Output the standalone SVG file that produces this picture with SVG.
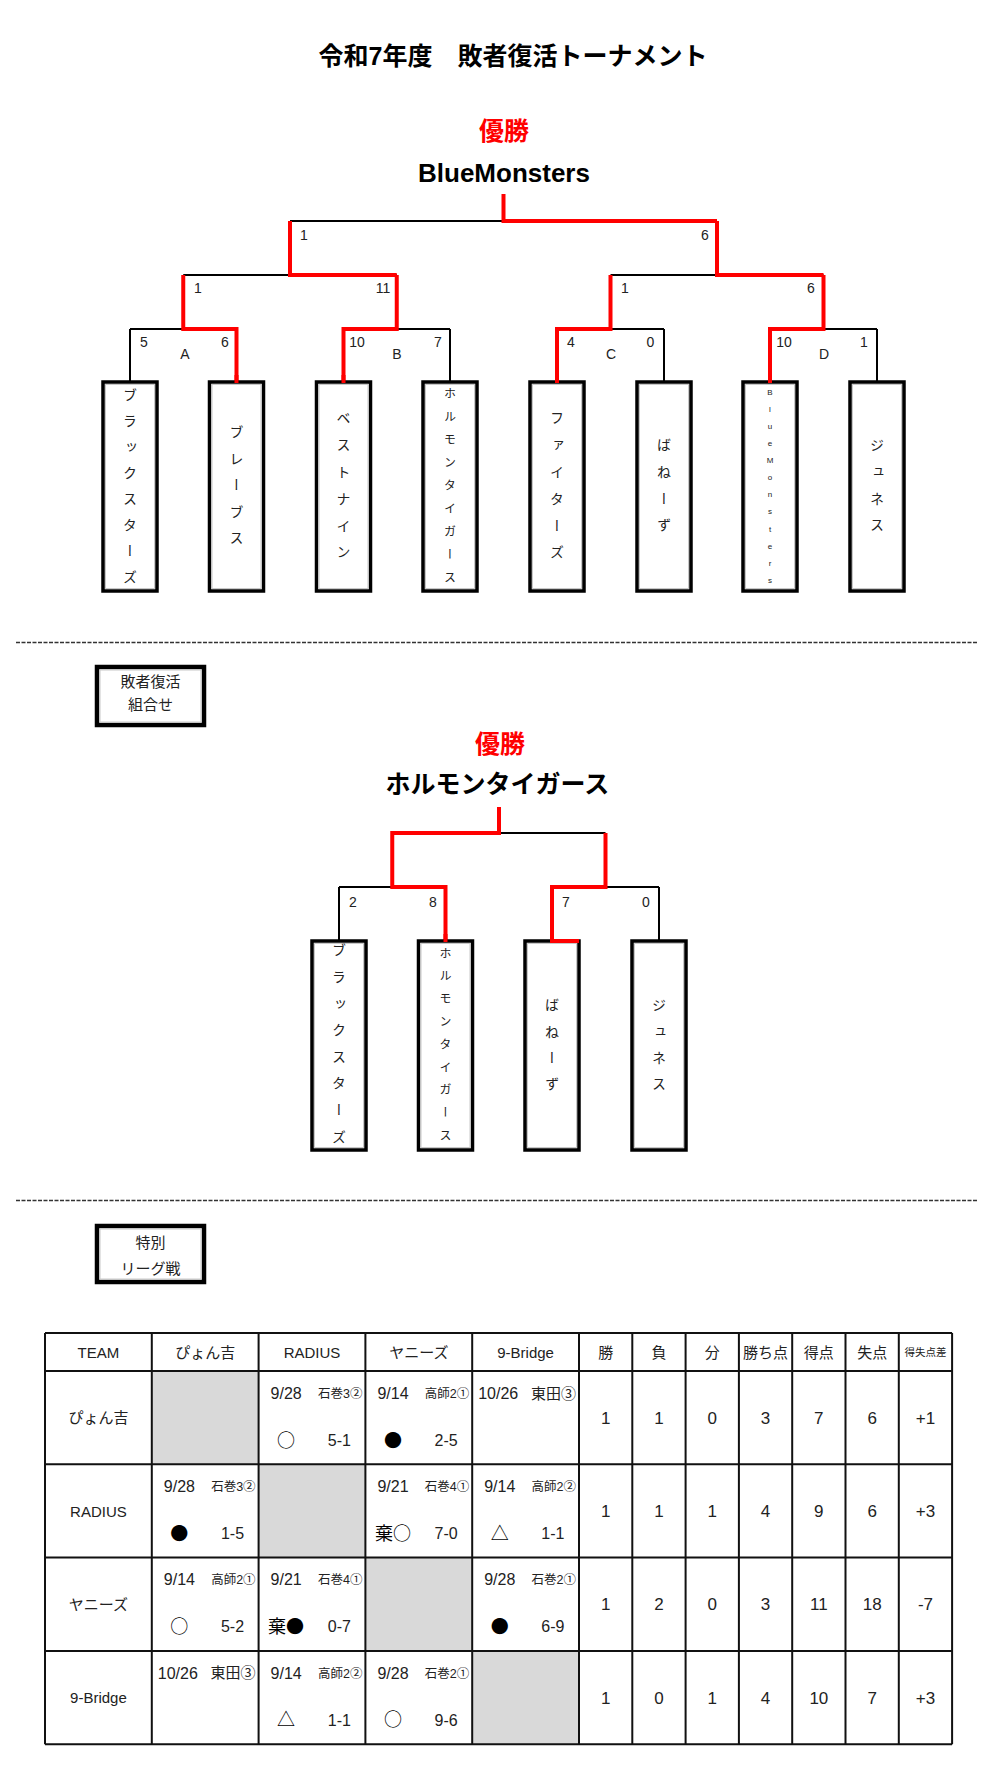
<svg xmlns="http://www.w3.org/2000/svg" width="1000" height="1769" viewBox="0 0 1000 1769">
<style>
.title{font-family:"Liberation Sans","Noto Sans CJK JP",sans-serif;font-weight:bold;font-size:25px;fill:#000;text-anchor:middle}
.champ{font-family:"Noto Sans CJK JP",sans-serif;font-weight:bold;font-size:25px;fill:#ff0000;text-anchor:middle}
.win{font-family:"Liberation Sans","Noto Sans CJK JP",sans-serif;font-weight:bold;font-size:26px;fill:#000;text-anchor:middle}
.ln{fill:none;stroke:#000;stroke-width:2}
.rd{fill:none;stroke:#ff0000;stroke-width:4;stroke-linejoin:miter}
.bx{fill:#fff;stroke:#000;stroke-width:3.5}
.bxi{fill:none;stroke:#c8c8c8;stroke-width:1}
.sc{font-family:"Liberation Sans",sans-serif;font-size:14px;fill:#222;text-anchor:middle}
.vt{font-family:"Noto Sans CJK JP",sans-serif;font-size:14px;fill:#222;writing-mode:vertical-rl}
.vs{font-family:"Noto Sans CJK JP",sans-serif;font-size:12px;fill:#222;writing-mode:vertical-rl}
.vu{font-family:"Liberation Sans","Noto Sans CJK JP",sans-serif;font-size:8px;fill:#222;writing-mode:vertical-rl;text-orientation:upright}
.dash{stroke:#333;stroke-width:1.6;stroke-dasharray:4 1.5}
.lbx{fill:#fff;stroke:#000;stroke-width:4.5}
.lbt{font-family:"Noto Sans CJK JP",sans-serif;font-size:15px;fill:#222;text-anchor:middle}
.grid{stroke:#111;stroke-width:2;fill:none}
.gray{fill:#d9d9d9}
.th{font-family:"Liberation Sans","Noto Sans CJK JP",sans-serif;font-size:15px;fill:#222;text-anchor:middle}
.ths{font-family:"Noto Sans CJK JP",sans-serif;font-size:10.5px;fill:#222;text-anchor:middle}
.dt{font-family:"Liberation Sans",sans-serif;font-size:16px;fill:#222}
.vn{font-family:"Liberation Sans","Noto Sans CJK JP",sans-serif;font-size:12.5px;fill:#222;text-anchor:end}
.vb{font-family:"Liberation Sans","Noto Sans CJK JP",sans-serif;font-size:15px;fill:#222;text-anchor:end}
.sy{font-family:"Noto Sans CJK JP",sans-serif;font-size:18px;fill:#000;text-anchor:middle}
.ss{font-family:"Liberation Sans",sans-serif;font-size:16px;fill:#222;text-anchor:middle}
.st{font-family:"Liberation Sans",sans-serif;font-size:17px;fill:#222;text-anchor:middle}
</style>
<rect width="1000" height="1769" fill="#fff"/>

<text class="title" x="513" y="65">令和7年度　敗者復活トーナメント</text>

<!-- ===== Bracket 1 ===== -->
<text class="champ" x="504" y="139.5">優勝</text>
<text class="win" x="504" y="182">BlueMonsters</text>

<g id="connectors">
  <!-- bracket 1 black -->
  <path class="ln" d="M503.5,194 V221 M290,221 H717 M290,221 V275 M717,221 V275 M183.25,275 H396.75 M610.5,275 H823.5 M183.25,275 V329 M396.75,275 V329 M610.5,275 V329 M823.5,275 V329 M130,329 H236.5 M343.5,329 H450 M557,329 H664 M770,329 H877 M130,329 V382 M236.5,329 V382 M343.5,329 V382 M450,329 V382 M557,329 V382 M664,329 V382 M770,329 V382 M877,329 V382"/>
  <!-- bracket 1 red -->
  <path class="rd" d="M183.25,275 V329 H236.5 V382"/>
  <path class="rd" d="M396.75,275 V329 H343.5 V382"/>
  <path class="rd" d="M610.5,275 V329 H557 V382"/>
  <path class="rd" d="M823.5,275 V329 H770 V382"/>
  <path class="rd" d="M290,221 V275 H396.75"/>
  <path class="rd" d="M717,221 V275 H823.5"/>
  <path class="rd" d="M503.5,194 V221 H717"/>
  <!-- bracket 2 black -->
  <path class="ln" d="M499,807 V833 M392.25,833 H605.5 M392.25,833 V887 M605.5,833 V887 M339,887 H445.5 M552,887 H659 M339,887 V941 M445.5,887 V941 M552,887 V941 M659,887 V941"/>
  <!-- bracket 2 red -->
  <path class="rd" d="M499,807 V833 H392.25 V887 H445.5 V941"/>
  <path class="rd" d="M605.5,833 V887 H552 V941 H579"/>
</g>

<g id="scores1">
  <text class="sc" x="304" y="240">1</text>
  <text class="sc" x="705" y="240">6</text>
  <text class="sc" x="198" y="293">1</text>
  <text class="sc" x="383" y="293">11</text>
  <text class="sc" x="625" y="293">1</text>
  <text class="sc" x="811" y="293">6</text>
  <text class="sc" x="144" y="347">5</text>
  <text class="sc" x="185" y="359">A</text>
  <text class="sc" x="225" y="347">6</text>
  <text class="sc" x="357" y="347">10</text>
  <text class="sc" x="397" y="359">B</text>
  <text class="sc" x="438" y="347">7</text>
  <text class="sc" x="571" y="347">4</text>
  <text class="sc" x="611" y="359">C</text>
  <text class="sc" x="650.5" y="347">0</text>
  <text class="sc" x="784" y="347">10</text>
  <text class="sc" x="824" y="359">D</text>
  <text class="sc" x="864" y="347">1</text>
</g>

<g id="team-b1-1"><rect class="bx" x="103" y="382" width="54" height="209"/><rect class="bxi" x="105.5" y="384.5" width="49" height="204"/>
<text class="vt" x="130" y="388 414 440 466 492 518 544 570">ブラックスターズ</text></g>
<g id="team-b1-2"><rect class="bx" x="209.5" y="382" width="54" height="209"/><rect class="bxi" x="212" y="384.5" width="49" height="204"/>
<text class="vt" x="236.5" y="424.7 451.2 477.7 504.2 530.7">ブレーブス</text></g>
<g id="team-b1-3"><rect class="bx" x="316.5" y="382" width="54" height="209"/><rect class="bxi" x="319" y="384.5" width="49" height="204"/>
<text class="vt" x="343.5" y="411 437.8 464.6 491.4 518.2 545">ベストナイン</text></g>
<g id="team-b1-4"><rect class="bx" x="423" y="382" width="54" height="209"/><rect class="bxi" x="425.5" y="384.5" width="49" height="204"/>
<text class="vs" x="450" y="387 410 433 456 479 502 525 548 571">ホルモンタイガース</text></g>
<g id="team-b1-5"><rect class="bx" x="530" y="382" width="54" height="209"/><rect class="bxi" x="532.5" y="384.5" width="49" height="204"/>
<text class="vt" x="557" y="411 437.8 464.6 491.4 518.2 545">ファイターズ</text></g>
<g id="team-b1-6"><rect class="bx" x="637" y="382" width="54" height="209"/><rect class="bxi" x="639.5" y="384.5" width="49" height="204"/>
<text class="vt" x="664" y="438 464.7 491.4 518.1">ばねーず</text></g>
<g id="team-b1-7"><rect class="bx" x="743" y="382" width="54" height="209"/><rect class="bxi" x="745.5" y="384.5" width="49" height="204"/>
<text class="vu" x="770" y="387.7 404.8 421.9 439 456.1 473.2 490.3 507.4 524.5 541.6 558.7 575.8">BlueMonsters</text></g>
<g id="team-b1-8"><rect class="bx" x="850" y="382" width="54" height="209"/><rect class="bxi" x="852.5" y="384.5" width="49" height="204"/>
<text class="vt" x="877" y="438 464.7 491.4 518.1">ジュネス</text></g>

<g id="connectors-top">
  <path class="rd" d="M236.5,375 V383"/>
  <path class="rd" d="M343.5,375 V383"/>
  <path class="rd" d="M557,375 V383"/>
  <path class="rd" d="M770,375 V383"/>
</g>

<line class="dash" x1="16" y1="642.5" x2="978" y2="642.5"/>

<g id="label-haisha">
  <rect class="lbx" x="97" y="667" width="107" height="58"/>
  <rect class="bxi" x="100" y="670" width="101" height="52"/>
  <text class="lbt" x="150.5" y="686.5">敗者復活</text>
  <text class="lbt" x="150.5" y="710">組合せ</text>
</g>

<!-- ===== Bracket 2 ===== -->
<text class="champ" x="500" y="752.5">優勝</text>
<text class="title" x="497.5" y="792.5">ホルモンタイガース</text>

<g id="scores2">
  <text class="sc" x="353" y="907">2</text>
  <text class="sc" x="433" y="907">8</text>
  <text class="sc" x="566" y="907">7</text>
  <text class="sc" x="646" y="907">0</text>
</g>

<g id="team-b2-1"><rect class="bx" x="312" y="941" width="54" height="209"/><rect class="bxi" x="314.5" y="943.5" width="49" height="204"/>
<text class="vt" x="339" y="943 969.6 996.2 1022.8 1049.4 1076 1102.6 1129.2">ブラックスターズ</text></g>
<g id="team-b2-2"><rect class="bx" x="418.5" y="941" width="54" height="209"/><rect class="bxi" x="421" y="943.5" width="49" height="204"/>
<text class="vs" x="445.5" y="947 969.8 992.6 1015.4 1038.2 1061 1083.8 1106.6 1129.4">ホルモンタイガース</text></g>
<g id="team-b2-3"><rect class="bx" x="525" y="941" width="54" height="209"/><rect class="bxi" x="527.5" y="943.5" width="49" height="204"/>
<text class="vt" x="552" y="998 1024.2 1050.4 1076.6">ばねーず</text></g>
<g id="team-b2-4"><rect class="bx" x="632" y="941" width="54" height="209"/><rect class="bxi" x="634.5" y="943.5" width="49" height="204"/>
<text class="vt" x="659" y="998 1024.2 1050.4 1076.6">ジュネス</text></g>

<g id="connectors-top2">
  <path class="rd" d="M445.5,934 V942"/>
  <path class="rd" d="M552,934 V941 H579"/>
</g>

<line class="dash" x1="16" y1="1200.5" x2="978" y2="1200.5"/>

<g id="label-league">
  <rect class="lbx" x="97" y="1226" width="107" height="56"/>
  <rect class="bxi" x="100" y="1229" width="101" height="50"/>
  <text class="lbt" x="150.5" y="1247.5">特別</text>
  <text class="lbt" x="150.5" y="1273.5">リーグ戦</text>
</g>

<!-- ===== League table ===== -->
<g id="league-table">
  <rect class="gray" x="151.8" y="1371" width="106.8" height="93.3"/>
  <rect class="gray" x="258.6" y="1464.3" width="106.8" height="93.3"/>
  <rect class="gray" x="365.4" y="1557.6" width="106.8" height="93.3"/>
  <rect class="gray" x="472.2" y="1650.9" width="106.8" height="93.3"/>
  <path class="grid" d="M45,1333 H952.1 M45,1371 H952.1 M45,1464.3 H952.1 M45,1557.6 H952.1 M45,1650.9 H952.1 M45,1744.2 H952.1 M45,1333 V1744.2 M151.8,1333 V1744.2 M258.6,1333 V1744.2 M365.4,1333 V1744.2 M472.2,1333 V1744.2 M579,1333 V1744.2 M632.3,1333 V1744.2 M685.6,1333 V1744.2 M738.9,1333 V1744.2 M792.2,1333 V1744.2 M845.5,1333 V1744.2 M898.8,1333 V1744.2 M952.1,1333 V1744.2"/>

  <!-- header -->
  <text class="th" x="98.4" y="1357.5">TEAM</text>
  <text class="th" x="205.2" y="1357.5">ぴょん吉</text>
  <text class="th" x="312" y="1357.5">RADIUS</text>
  <text class="th" x="418.8" y="1357.5">ヤニーズ</text>
  <text class="th" x="525.6" y="1357.5">9-Bridge</text>
  <text class="th" x="605.65" y="1357.5">勝</text>
  <text class="th" x="658.95" y="1357.5">負</text>
  <text class="th" x="712.25" y="1357.5">分</text>
  <text class="th" x="765.55" y="1357.5">勝ち点</text>
  <text class="th" x="818.85" y="1357.5">得点</text>
  <text class="th" x="872.15" y="1357.5">失点</text>
  <text class="ths" x="925.45" y="1356">得失点差</text>

  <!-- team names -->
  <text class="th" x="98.4" y="1423">ぴょん吉</text>
  <text class="th" x="98.4" y="1516.5">RADIUS</text>
  <text class="th" x="98.4" y="1609.8">ヤニーズ</text>
  <text class="th" x="98.4" y="1703">9-Bridge</text>

  <!-- row 1 -->
  <text class="dt" x="270.6" y="1398.8">9/28</text><text class="vn" x="362.4" y="1397.8">石巻3②</text>
  <text class="sy" x="286.1" y="1446.5">○</text><text class="ss" x="339.3" y="1445.8">5-1</text>
  <text class="dt" x="377.4" y="1398.8">9/14</text><text class="vn" x="469.2" y="1397.8">高師2①</text>
  <text class="sy" x="392.9" y="1446.5">●</text><text class="ss" x="446.1" y="1445.8">2-5</text>
  <text class="dt" x="478.2" y="1398.8">10/26</text><text class="vb" x="576" y="1398.5">東田③</text>

  <!-- row 2 -->
  <text class="dt" x="163.8" y="1492.1">9/28</text><text class="vn" x="255.6" y="1491.1">石巻3②</text>
  <text class="sy" x="179.3" y="1539.8">●</text><text class="ss" x="232.5" y="1539.1">1-5</text>
  <text class="dt" x="377.4" y="1492.1">9/21</text><text class="vn" x="469.2" y="1491.1">石巻4①</text>
  <text class="sy" x="392.9" y="1539.8">棄○</text><text class="ss" x="446.1" y="1539.1">7-0</text>
  <text class="dt" x="484.2" y="1492.1">9/14</text><text class="vn" x="576" y="1491.1">高師2②</text>
  <text class="sy" x="499.7" y="1539.8">△</text><text class="ss" x="552.9" y="1539.1">1-1</text>

  <!-- row 3 -->
  <text class="dt" x="163.8" y="1585.4">9/14</text><text class="vn" x="255.6" y="1584.4">高師2①</text>
  <text class="sy" x="179.3" y="1633.1">○</text><text class="ss" x="232.5" y="1632.4">5-2</text>
  <text class="dt" x="270.6" y="1585.4">9/21</text><text class="vn" x="362.4" y="1584.4">石巻4①</text>
  <text class="sy" x="286.1" y="1633.1">棄●</text><text class="ss" x="339.3" y="1632.4">0-7</text>
  <text class="dt" x="484.2" y="1585.4">9/28</text><text class="vn" x="576" y="1584.4">石巻2①</text>
  <text class="sy" x="499.7" y="1633.1">●</text><text class="ss" x="552.9" y="1632.4">6-9</text>

  <!-- row 4 -->
  <text class="dt" x="157.8" y="1678.7">10/26</text><text class="vb" x="255.6" y="1678.4">東田③</text>
  <text class="dt" x="270.6" y="1678.7">9/14</text><text class="vn" x="362.4" y="1677.7">高師2②</text>
  <text class="sy" x="286.1" y="1726.4">△</text><text class="ss" x="339.3" y="1725.7">1-1</text>
  <text class="dt" x="377.4" y="1678.7">9/28</text><text class="vn" x="469.2" y="1677.7">石巻2①</text>
  <text class="sy" x="392.9" y="1726.4">○</text><text class="ss" x="446.1" y="1725.7">9-6</text>

  <!-- stats -->
  <text class="st" x="605.65" y="1423.7">1</text><text class="st" x="658.95" y="1423.7">1</text><text class="st" x="712.25" y="1423.7">0</text><text class="st" x="765.55" y="1423.7">3</text><text class="st" x="818.85" y="1423.7">7</text><text class="st" x="872.15" y="1423.7">6</text><text class="st" x="925.45" y="1423.7">+1</text>
  <text class="st" x="605.65" y="1517">1</text><text class="st" x="658.95" y="1517">1</text><text class="st" x="712.25" y="1517">1</text><text class="st" x="765.55" y="1517">4</text><text class="st" x="818.85" y="1517">9</text><text class="st" x="872.15" y="1517">6</text><text class="st" x="925.45" y="1517">+3</text>
  <text class="st" x="605.65" y="1610.3">1</text><text class="st" x="658.95" y="1610.3">2</text><text class="st" x="712.25" y="1610.3">0</text><text class="st" x="765.55" y="1610.3">3</text><text class="st" x="818.85" y="1610.3">11</text><text class="st" x="872.15" y="1610.3">18</text><text class="st" x="925.45" y="1610.3">-7</text>
  <text class="st" x="605.65" y="1703.6">1</text><text class="st" x="658.95" y="1703.6">0</text><text class="st" x="712.25" y="1703.6">1</text><text class="st" x="765.55" y="1703.6">4</text><text class="st" x="818.85" y="1703.6">10</text><text class="st" x="872.15" y="1703.6">7</text><text class="st" x="925.45" y="1703.6">+3</text>
</g>
</svg>
